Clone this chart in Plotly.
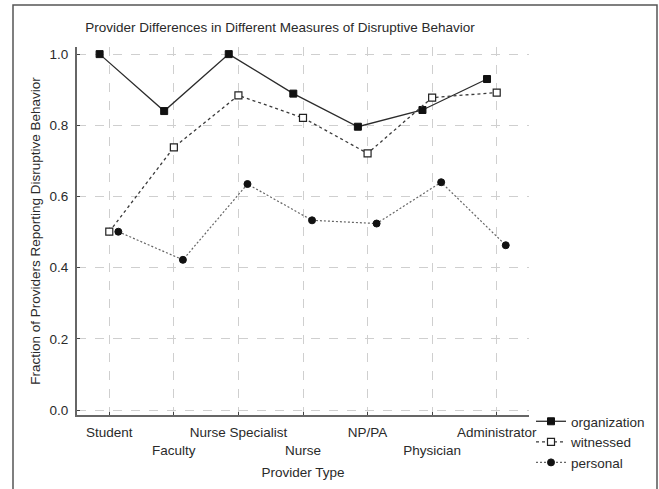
import plotly.graph_objects as go

categories = ["Student", "Faculty", "Nurse Specialist", "Nurse", "NP/PA", "Physician", "Administrator"]
organization = [1.00, 0.84, 1.00, 0.889, 0.796, 0.843, 0.930]
witnessed = [0.501, 0.738, 0.884, 0.821, 0.721, 0.878, 0.892]
personal = [0.501, 0.422, 0.635, 0.533, 0.524, 0.640, 0.463]
y_ticks = [0.0, 0.2, 0.4, 0.6, 0.8, 1.0]

FONT = "Liberation Sans, Arial, sans-serif"
FS = 13.5
TXT = "#2a2a2a"
idx = list(range(len(categories)))
offsets = {"organization": -0.15, "witnessed": 0.0, "personal": 0.14}

fig = go.Figure()
fig.add_trace(go.Scatter(
    x=[i + offsets["organization"] for i in idx], y=organization, name="organization",
    mode="lines+markers",
    line=dict(color="#2b2b2b", width=1.3, dash="solid"),
    marker=dict(symbol="square", size=7, color="#111111", line=dict(color="#111111", width=1)),
))
fig.add_trace(go.Scatter(
    x=[i + offsets["witnessed"] for i in idx], y=witnessed, name="witnessed",
    mode="lines+markers",
    line=dict(color="#3a3a3a", width=1.3, dash="3px,3px"),
    marker=dict(symbol="square", size=7, color="white", line=dict(color="#222222", width=1.2)),
))
fig.add_trace(go.Scatter(
    x=[i + offsets["personal"] for i in idx], y=personal, name="personal",
    mode="lines+markers",
    line=dict(color="#666666", width=1.2, dash="2px,2px"),
    marker=dict(symbol="circle", size=7, color="#111111", line=dict(color="#111111", width=1)),
))

ticktext = [c if i % 2 == 0 else "<br>" + c for i, c in enumerate(categories)]

fig.update_layout(
    width=659, height=489,
    margin=dict(l=77, r=130, t=47, b=74, autoexpand=False),
    paper_bgcolor="white", plot_bgcolor="white",
    font=dict(family=FONT, size=FS, color=TXT),
    title=dict(text="Provider Differences in Different Measures of Disruptive Behavior",
               x=(280 - 77) / 452, xref="paper", xanchor="center",
               y=1 - 27 / 489, yref="container", yanchor="middle",
               font=dict(family=FONT, size=FS, color=TXT)),
    showlegend=True,
    legend=dict(x=(531 - 77) / 452, y=(415 - 406) / 368, xanchor="left", yanchor="top",
                bgcolor="rgba(0,0,0,0)", borderwidth=0, itemwidth=30,
                font=dict(family=FONT, size=FS, color=TXT), tracegroupgap=0),
    xaxis=dict(
        range=[-0.5, 6.5], tickmode="array", tickvals=idx, ticktext=ticktext, tickangle=0,
        ticks="inside", ticklen=3, tickcolor="#444", tickwidth=1, automargin=False,
        ticklabelstandoff=4,
        showline=True, linecolor="#666666", linewidth=2,
        showgrid=True, gridcolor="#cfcfcf", griddash="dash", gridwidth=1,
        zeroline=False,
        title=dict(text="Provider Type", standoff=11, font=dict(family=FONT, size=FS, color=TXT)),
        tickfont=dict(family=FONT, size=FS, color=TXT),
    ),
    yaxis=dict(
        range=[-0.014, 1.02], tickmode="array", tickvals=y_ticks, tickformat=".1f",
        ticks="inside", ticklen=3, tickcolor="#444", tickwidth=1, automargin=False,
        ticklabelstandoff=4,
        showline=True, linecolor="#666666", linewidth=2,
        showgrid=True, gridcolor="#cfcfcf", griddash="dash", gridwidth=1,
        zeroline=False,
        title=dict(text="Fraction of Providers Reporting Disruptive Behavior", standoff=6,
                   font=dict(family=FONT, size=FS, color=TXT)),
        tickfont=dict(family=FONT, size=FS, color=TXT),
    ),
    xaxis2=dict(
        overlaying="x", side="top", range=[-0.5, 6.5], tickmode="array", tickvals=idx,
        showticklabels=False, ticks="inside", ticklen=3, tickcolor="#444", automargin=False,
        showline=True, linecolor="#888888", linewidth=1, showgrid=False, zeroline=False,
    ),
    yaxis2=dict(
        overlaying="y", side="right", range=[0, 11], tickmode="linear", tick0=0, dtick=1,
        showticklabels=False, ticks="inside", ticklen=3, tickcolor="#444", automargin=False,
        showline=True, linecolor="#888888", linewidth=1, showgrid=False, zeroline=False,
    ),
    shapes=[dict(type="rect", xref="paper", yref="paper",
                 x0=(13 - 77) / 452, x1=(657 - 77) / 452,
                 y0=(415 - 495) / 368, y1=(415 - 5) / 368,
                 line=dict(color="#555555", width=1.5), fillcolor="rgba(0,0,0,0)", layer="below")],
)

fig.write_html("out.html", config={"displayModeBar": False},
               post_script="document.body.style.margin='0';")
